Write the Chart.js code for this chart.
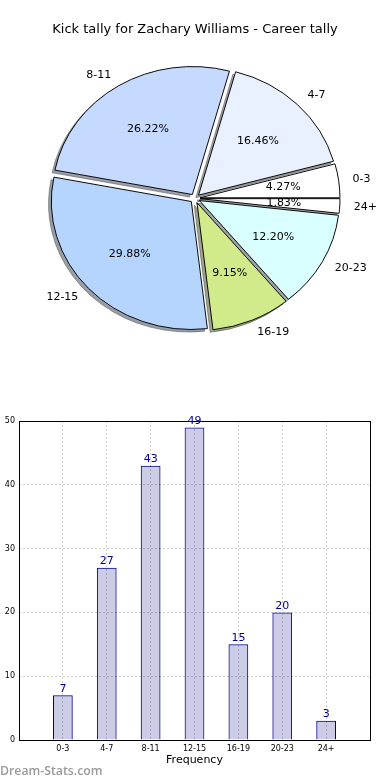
<!DOCTYPE html>
<html>
<head>
<meta charset="utf-8">
<script src="https://cdn.jsdelivr.net/npm/chart.js@4/dist/chart.umd.min.js"></script>
<style>
  html, body { margin: 0; padding: 0; background: #fff; }
  #wrap { position: relative; width: 390px; height: 780px; overflow: hidden; }
  #pie { position: absolute; left: 0; top: 0; }
  #bar { position: absolute; left: 0; top: 400px; }
  #mark {
    position: absolute; left: 0; top: 762px;
    font: 600 12.3px "Open Sans", sans-serif; color: #9a9a9a;
  }
</style>
</head>
<body>
<div id="wrap">
  <canvas id="pie" width="390" height="400"></canvas>
  <canvas id="bar" width="390" height="380"></canvas>
  <div id="mark">Dream-Stats.com</div>
</div>
<script>
const categories = ["0-3", "4-7", "8-11", "12-15", "16-19", "20-23", "24+"];
const tallies = [7, 27, 43, 49, 15, 20, 3];
const sliceColors = ["#ffffff", "#e9f0ff", "#c6d9ff", "#b5d5ff", "#d1eb8a", "#d9ffff", "#ffffff"];
const yTicks = [0, 10, 20, 30, 40, 50];

const FONT = "DejaVu Sans";
const SQUASH = 0.914;   // pie is drawn slightly flattened
const EXPLODE = 5;
const total = tallies.reduce((a, b) => a + b, 0);

// pie goes counter-clockwise from 3 o'clock, chart.js goes clockwise -> reverse
const pieLabels = categories.slice().reverse();
const pieValues = tallies.slice().reverse();
const pieColors = sliceColors.slice().reverse();

function shadowOf(hex) {
   const n = parseInt(hex.slice(1), 16);
   const r = Math.round(((n >> 16) & 255) * 0.3);
   const g = Math.round(((n >> 8) & 255) * 0.3);
   const b = Math.round((n & 255) * 0.3);
   return "rgba(" + r + "," + g + "," + b + ",0.5)";
}

const pieDraw = {
   id: "pieDraw",
   beforeDatasetsDraw(chart) {
      const ctx = chart.ctx;
      const arcs = chart.getDatasetMeta(0).data;
      const cx = arcs[0].x, cy = arcs[0].y;
      ctx.save();
      ctx.translate(cx, cy);
      ctx.scale(1, SQUASH);
      ctx.translate(-cx, -cy);
      // shadows first, under every wedge
      arcs.forEach((arc, i) => {
         const mid = (arc.startAngle + arc.endAngle) / 2;
         ctx.save();
         ctx.translate(EXPLODE * Math.cos(mid) - 2.8, EXPLODE * Math.sin(mid) + 2.8);
         ctx.beginPath();
         ctx.moveTo(arc.x, arc.y);
         ctx.arc(arc.x, arc.y, arc.outerRadius, arc.startAngle, arc.endAngle);
         ctx.closePath();
         ctx.fillStyle = shadowOf(pieColors[i]);
         ctx.strokeStyle = shadowOf(pieColors[i]);
         ctx.lineWidth = 1;
         ctx.fill();
         ctx.stroke();
         ctx.restore();
      });
      arcs.forEach(arc => {
         const mid = (arc.startAngle + arc.endAngle) / 2;
         ctx.save();
         ctx.translate(EXPLODE * Math.cos(mid), EXPLODE * Math.sin(mid));
         arc.draw(ctx);
         ctx.restore();
      });
      ctx.restore();
      return false;
   },
   afterDraw(chart) {
      const ctx = chart.ctx;
      const arcs = chart.getDatasetMeta(0).data;
      ctx.save();
      ctx.fillStyle = "#000";
      ctx.font = "11px '" + FONT + "'";
      ctx.textBaseline = "middle";
      arcs.forEach((arc, i) => {
         const mid = (arc.startAngle + arc.endAngle) / 2;
         const c = Math.cos(mid), s = Math.sin(mid);
         const ox = arc.x + EXPLODE * c;
         const oy = arc.y + EXPLODE * SQUASH * s;
         const R = arc.outerRadius;
         ctx.textAlign = c > 0 ? "left" : "right";
         ctx.fillText(pieLabels[i], ox + 1.1 * R * c, oy + 1.1 * R * SQUASH * s);
         ctx.textAlign = "center";
         const pct = (pieValues[i] / total * 100).toFixed(2) + "%";
         ctx.fillText(pct, ox + 0.6 * R * c, oy + 0.6 * R * SQUASH * s);
      });
      ctx.restore();
   }
};

new Chart(document.getElementById("pie"), {
   type: "pie",
   data: {
      labels: pieLabels,
      datasets: [{
         data: pieValues,
         backgroundColor: pieColors,
         borderColor: "#000",
         borderWidth: 1
      }]
   },
   options: {
      responsive: false,
      animation: false,
      events: [],
      rotation: 90,
      radius: 140,
      layout: { padding: { top: 0, bottom: 40.8, left: 0, right: 0 } },
      plugins: {
         legend: { display: false },
         tooltip: { enabled: false },
         title: {
            display: true,
            text: "Kick tally for Zachary Williams - Career tally",
            color: "#000",
            font: { family: FONT, size: 13, weight: "normal" },
            padding: { top: 22, bottom: 0 }
         }
      }
   },
   plugins: [pieDraw]
});

const barExtras = {
   id: "barExtras",
   afterDraw(chart) {
      const ctx = chart.ctx;
      const a = chart.chartArea;
      ctx.save();
      ctx.strokeStyle = "#000";
      ctx.lineWidth = 1;
      ctx.strokeRect(Math.round(a.left) + 0.5, Math.round(a.top) + 0.5,
         Math.round(a.right - a.left), Math.round(a.bottom - a.top));
      ctx.fillStyle = "#00008b";
      ctx.font = "11px '" + FONT + "'";
      ctx.textAlign = "center";
      ctx.textBaseline = "bottom";
      const meta = chart.getDatasetMeta(0);
      meta.data.forEach((bar, i) => {
         const v = chart.data.datasets[0].data[i];
         if (v == null) return;
         ctx.fillText(String(v), bar.x, bar.y - 1);
      });
      ctx.restore();
   }
};

new Chart(document.getElementById("bar"), {
   type: "bar",
   data: {
      labels: ["", ...categories, ""],
      datasets: [{
         data: [null, ...tallies, null],
         backgroundColor: "rgba(0,0,128,0.2)",
         borderColor: "#00008b",
         borderWidth: 1,
         barPercentage: 0.45,
         categoryPercentage: 1
      }]
   },
   options: {
      responsive: false,
      animation: false,
      events: [],
      layout: { padding: { top: 21, right: 20, left: 0, bottom: 0 } },
      plugins: { legend: { display: false }, tooltip: { enabled: false } },
      scales: {
         x: {
            offset: false,
            z: 1,
            grid: { offset: false, color: "#cdcdcd", drawTicks: false },
            border: { display: false, dash: [2, 2] },
            ticks: {
               color: "#000", font: { family: FONT, size: 8 },
               padding: 4, maxRotation: 0, autoSkip: false
            },
            title: {
               display: true, text: "Frequency", color: "#000",
               font: { family: FONT, size: 11 }, padding: { top: 0, bottom: 13 }
            },
            afterFit: s => { s.height = 40; }
         },
         y: {
            min: 0,
            max: 50,
            z: 1,
            afterBuildTicks: s => { s.ticks = yTicks.map(v => ({ value: v })); },
            grid: { color: "#cdcdcd", drawTicks: false },
            border: { display: false, dash: [2, 2] },
            ticks: { color: "#000", font: { family: FONT, size: 8 }, padding: 4 },
            afterFit: s => { s.width = 19; }
         }
      }
   },
   plugins: [barExtras]
});
</script>
</body>
</html>
